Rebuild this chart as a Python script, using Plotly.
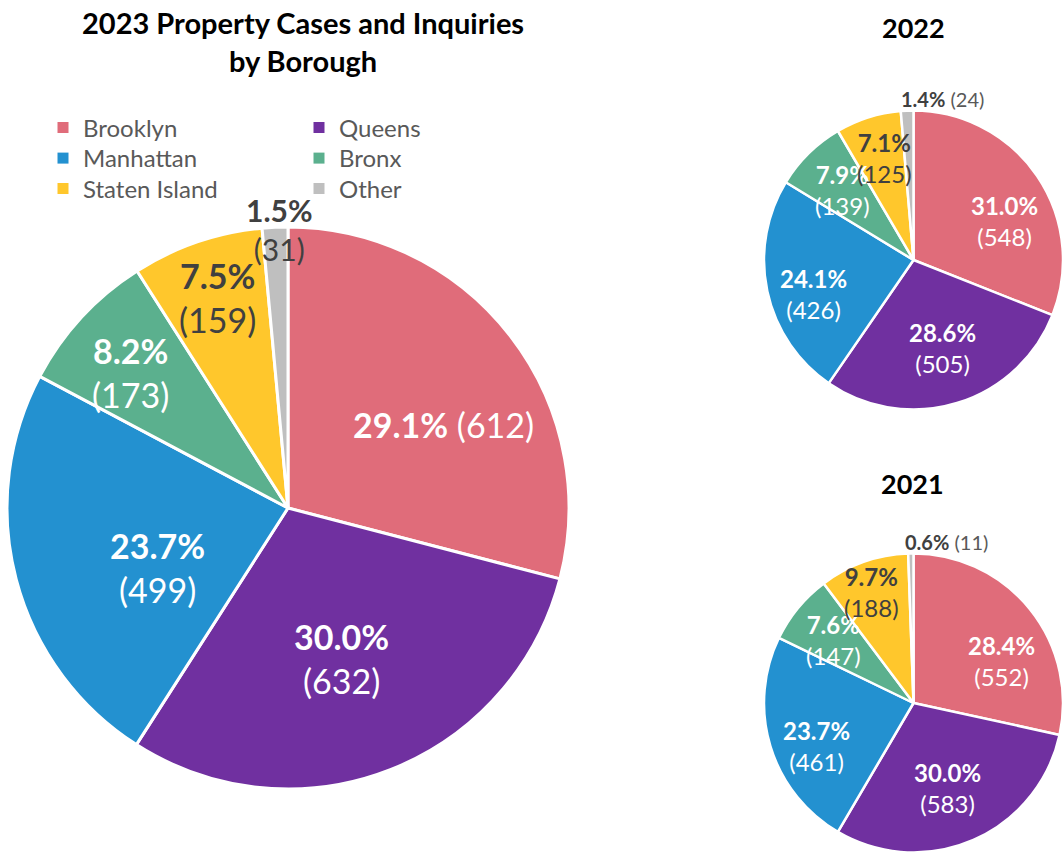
import math
import plotly.graph_objects as go

# ---------------- data ----------------
categories = ["Brooklyn", "Queens", "Manhattan", "Bronx", "Staten Island", "Other"]
values_2023 = [612, 632, 499, 173, 159, 31]
values_2022 = [548, 505, 426, 139, 125, 24]
values_2021 = [552, 583, 461, 147, 188, 11]
main_title = "2023 Property Cases and Inquiries<br>by Borough"
title_2022 = "2022"
title_2021 = "2021"

# ---------------- style ----------------
colors = ["#E06C7A", "#7030A0", "#2391D0", "#5BB08E", "#FFC72C", "#BFBFBF"]
label_colors = ["white", "white", "white", "white", "#404040", "#404040"]
W, H = 1063, 855
FONT = "Lato"

pies = [
    dict(name="2023", values=values_2023, box=(7, 227, 562), line=3,
         frac=[0.63, 0.57, 0.51, 0.74, 0.79, 0.99],
         delta=[9.4, 1.8, -9.7, -2.0, 0.5, 1.0],
         wrap=[False, True, True, True, True, True],
         anchor=["center"] * 6, outside=[False] * 6,
         size=[34, 34, 34, 34, 34, 30]),
    dict(name="2022", values=values_2022, box=(764, 110.5, 299), line=2.5,
         frac=[0.66, 0.62, 0.71, 0.67, 0.71, 1.08],
         delta=[11.2, -1.3, -6.7, -0.9, 1.8, 0.0],
         wrap=[True, True, True, True, True, False],
         anchor=["center"] * 5 + ["left"], outside=[False] * 5 + [True],
         size=[24, 24, 24, 24, 24, 20]),
    dict(name="2021", values=values_2021, box=(764, 553.5, 299), line=2.5,
         frac=[0.65, 0.61, 0.71, 0.68, 0.79, 1.08],
         delta=[13.5, 1.8, -6.8, -1.5, -1.2, 0.0],
         wrap=[True, True, True, True, True, False],
         anchor=["center"] * 5 + ["left"], outside=[False] * 5 + [True],
         size=[24, 24, 24, 24, 24, 20]),
]

fig = go.Figure()
annotations = []

for p in pies:
    left, top, size = p["box"]
    fig.add_trace(go.Pie(
        labels=categories, values=p["values"], name=p["name"],
        sort=False, direction="clockwise", rotation=0,
        marker=dict(colors=colors, line=dict(color="white", width=p["line"])),
        textinfo="none", showlegend=False,
        domain=dict(x=[left / W, min(1.0, (left + size) / W)],
                    y=[1 - (top + size) / H, 1 - top / H]),
    ))
    cx, cy, R = left + size / 2, top + size / 2, size / 2
    total = sum(p["values"])
    cum = 0
    for i, v in enumerate(p["values"]):
        mid = 360 * (cum + v / 2) / total
        cum += v
        ang = math.radians(mid + p["delta"][i])
        r = p["frac"][i] * R
        px, py = cx + r * math.sin(ang), cy - r * math.cos(ang)
        pct = v / total * 100
        if p["outside"][i]:
            txt = f"<b>{pct:.1f}%</b> <span style='color:#595959'>({v})</span>"
        elif p["wrap"][i]:
            txt = f"<b>{pct:.1f}%</b><br>({v})"
        else:
            txt = f"<b>{pct:.1f}%</b> ({v})"
        annotations.append(dict(
            x=px / W, y=1 - py / H, xref="paper", yref="paper",
            text=txt, showarrow=False, xanchor=p["anchor"][i], yanchor="middle",
            xshift=-8 if p["anchor"][i] == "left" else 0,
            font=dict(family=FONT, size=p["size"][i], color=label_colors[i]),
        ))

# main title and sub-chart titles
annotations.append(dict(x=303 / W, y=1 - 3 / H, xref="paper", yref="paper",
                        text=main_title, showarrow=False, xanchor="center", yanchor="top",
                        font=dict(family=FONT, size=29, color="black", weight="bold")))
for txt, (tx, ty) in [(title_2022, (913, 28)), (title_2021, (912, 483))]:
    annotations.append(dict(x=tx / W, y=1 - ty / H, xref="paper", yref="paper",
                            text=txt, showarrow=False, xanchor="center", yanchor="middle",
                            font=dict(family=FONT, size=27, color="black", weight="bold")))

# legend entries: three rows of two, one horizontal legend per row
legend_rows = [[0, 1], [2, 3], [4, 5]]
legend_ids = ["legend", "legend2", "legend3"]
row_y = [128, 158.5, 189]
for lid, idxs in zip(legend_ids, legend_rows):
    for i in idxs:
        fig.add_trace(go.Scatter(
            x=[None], y=[None], mode="markers", name=categories[i],
            marker=dict(symbol="square", size=11, color=colors[i]),
            legend=lid, hoverinfo="skip"))

legend_layout = {}
for lid, ry in zip(legend_ids, row_y):
    legend_layout[lid] = dict(
        orientation="h", x=43 / W, xanchor="left", y=1 - ry / H, yanchor="middle",
        entrywidth=211, entrywidthmode="pixels",
        font=dict(family=FONT, size=24, color="#595959"),
        bgcolor="rgba(0,0,0,0)", itemclick=False, itemdoubleclick=False)

fig.update_layout(
    width=W, height=H, margin=dict(l=0, r=0, t=0, b=0),
    paper_bgcolor="white", plot_bgcolor="white",
    xaxis=dict(visible=False), yaxis=dict(visible=False),
    annotations=annotations,
    **legend_layout,
)

fig.write_html("out.html", config={"displayModeBar": False},
               post_script="document.body.style.margin='0';document.body.style.overflow='hidden';")
